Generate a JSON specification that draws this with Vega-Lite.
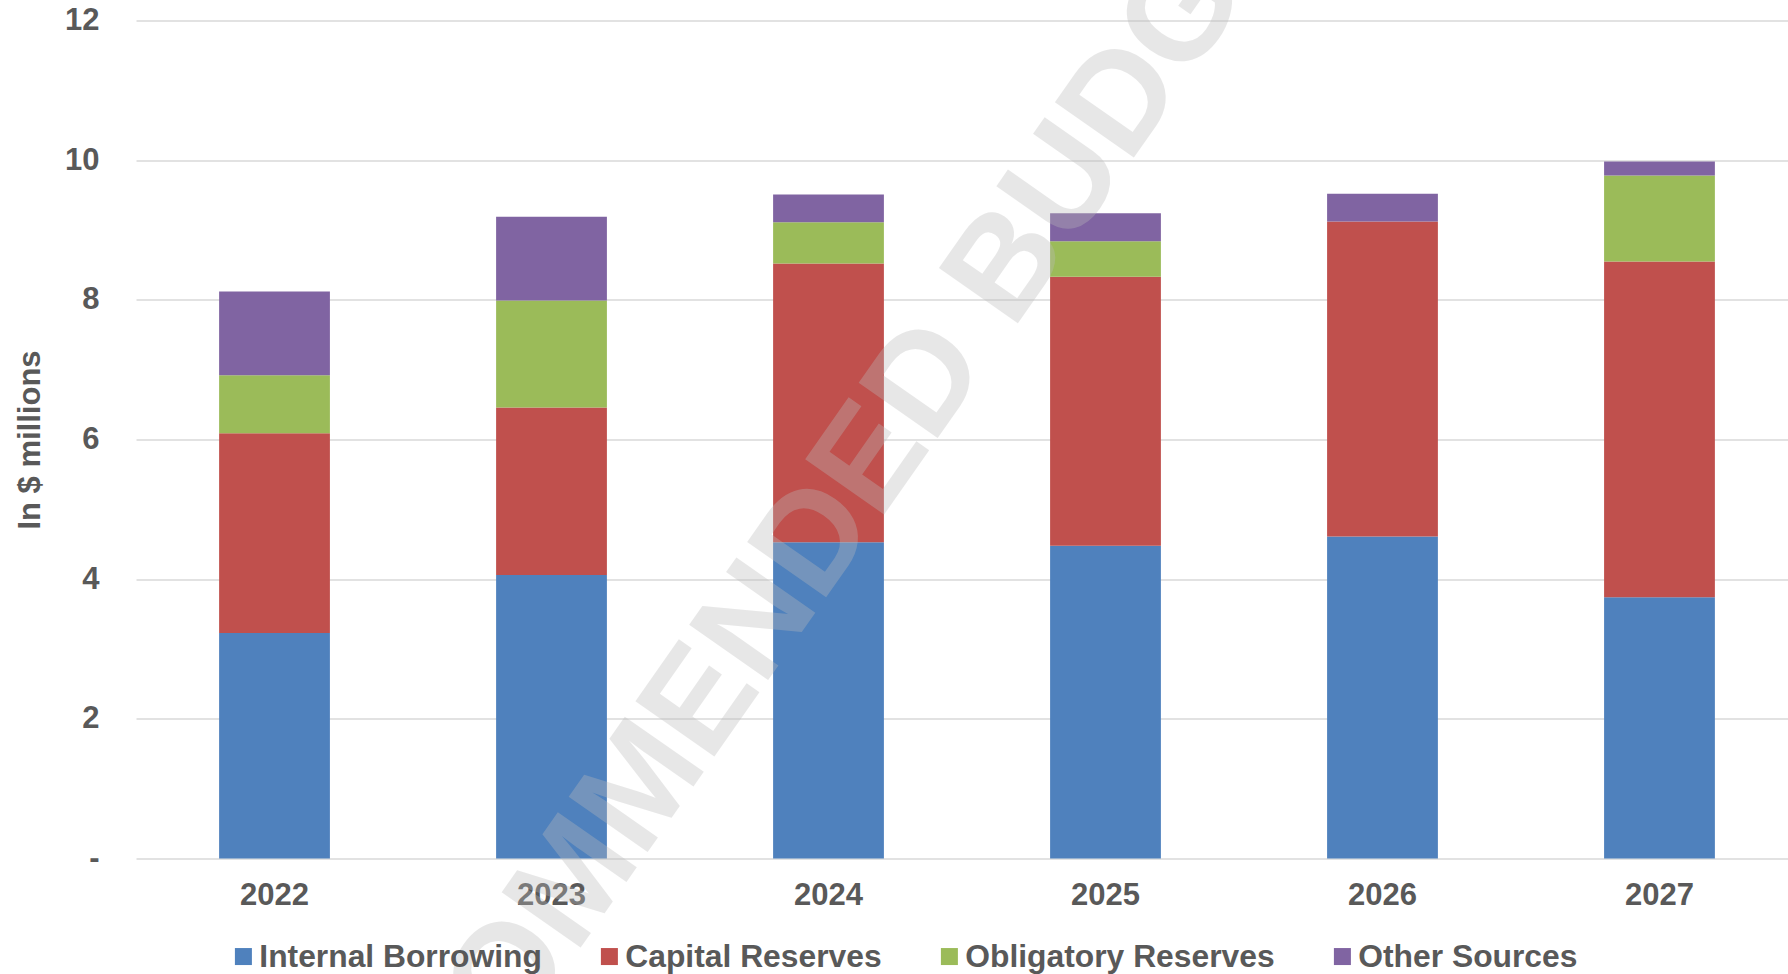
{
  "$schema": "https://vega.github.io/schema/vega-lite/v6.json",
  "width": 1652,
  "height": 838,
  "autosize": {"type": "none"},
  "padding": {"left": 136, "top": 20.5, "right": 0, "bottom": 115.5},
  "background": "white",
  "config": {"view": {"stroke": null}, "font": "Liberation Sans"},
  "layer": [
    {
      "data": {
        "values": [
          {"year": "2022", "source": "Internal Borrowing", "seq": 1, "amount": 3.23},
          {"year": "2022", "source": "Capital Reserves", "seq": 2, "amount": 2.86},
          {"year": "2022", "source": "Obligatory Reserves", "seq": 3, "amount": 0.83},
          {"year": "2022", "source": "Other Sources", "seq": 4, "amount": 1.20},
          {"year": "2023", "source": "Internal Borrowing", "seq": 1, "amount": 4.06},
          {"year": "2023", "source": "Capital Reserves", "seq": 2, "amount": 2.40},
          {"year": "2023", "source": "Obligatory Reserves", "seq": 3, "amount": 1.53},
          {"year": "2023", "source": "Other Sources", "seq": 4, "amount": 1.20},
          {"year": "2024", "source": "Internal Borrowing", "seq": 1, "amount": 4.53},
          {"year": "2024", "source": "Capital Reserves", "seq": 2, "amount": 3.99},
          {"year": "2024", "source": "Obligatory Reserves", "seq": 3, "amount": 0.59},
          {"year": "2024", "source": "Other Sources", "seq": 4, "amount": 0.40},
          {"year": "2025", "source": "Internal Borrowing", "seq": 1, "amount": 4.48},
          {"year": "2025", "source": "Capital Reserves", "seq": 2, "amount": 3.85},
          {"year": "2025", "source": "Obligatory Reserves", "seq": 3, "amount": 0.51},
          {"year": "2025", "source": "Other Sources", "seq": 4, "amount": 0.40},
          {"year": "2026", "source": "Internal Borrowing", "seq": 1, "amount": 4.61},
          {"year": "2026", "source": "Capital Reserves", "seq": 2, "amount": 4.51},
          {"year": "2026", "source": "Obligatory Reserves", "seq": 3, "amount": 0},
          {"year": "2026", "source": "Other Sources", "seq": 4, "amount": 0.40},
          {"year": "2027", "source": "Internal Borrowing", "seq": 1, "amount": 3.74},
          {"year": "2027", "source": "Capital Reserves", "seq": 2, "amount": 4.81},
          {"year": "2027", "source": "Obligatory Reserves", "seq": 3, "amount": 1.23},
          {"year": "2027", "source": "Other Sources", "seq": 4, "amount": 0.20}
        ]
      },
      "mark": {"type": "bar"},
      "encoding": {
        "x": {
          "field": "year",
          "type": "ordinal",
          "scale": {"paddingInner": 0.6, "paddingOuter": 0.282, "align": 0.532},
          "axis": {
            "title": null,
            "labelAngle": 0,
            "labelFontSize": 31,
            "labelFontWeight": "bold",
            "labelColor": "#595959",
            "labelPadding": 22,
            "ticks": false,
            "tickSize": 0,
            "domain": false,
            "grid": false
          }
        },
        "y": {
          "field": "amount",
          "type": "quantitative",
          "stack": "zero",
          "scale": {"domain": [0, 12], "nice": false},
          "axis": {
            "title": "In $ millions",
            "values": [0, 2, 4, 6, 8, 10, 12],
            "format": "d",
            "labelExpr": "datum.value == 0 ? '-\u00a0\u00a0' : datum.label",
            "labelFontSize": 31,
            "labelFontWeight": "bold",
            "labelColor": "#595959",
            "labelPadding": 37,
            "ticks": false,
            "tickSize": 0,
            "domain": false,
            "gridColor": "#D9D9D9",
            "gridWidth": 1.5,
            "titleFontSize": 31,
            "titleFontWeight": "bold",
            "titleColor": "#595959",
            "titlePadding": 18
          }
        },
        "color": {
          "field": "source",
          "type": "nominal",
          "scale": {
            "domain": ["Internal Borrowing", "Capital Reserves", "Obligatory Reserves", "Other Sources"],
            "range": ["#4F81BD", "#C0504D", "#9BBB59", "#8064A2"]
          },
          "legend": {
            "title": null,
            "orient": "none",
            "legendX": 91.5,
            "legendY": 920,
            "direction": "horizontal",
            "symbolType": "square",
            "symbolSize": 289,
            "symbolStrokeWidth": 0,
            "labelFontSize": 31.8,
            "labelFontWeight": "bold",
            "labelColor": "#595959",
            "labelOffset": 0,
            "labelLimit": 0,
            "columnPadding": 51,
            "padding": 0
          }
        },
        "order": {"field": "seq", "type": "quantitative"}
      }
    },
    {
      "data": {"values": [{"year": "2024", "amount": 4.84, "label": "RECOMMENDED BUDGET"}]},
      "mark": {
        "type": "text",
        "angle": 305,
        "fontSize": 140,
        "fontWeight": "bold",
        "color": "#BBBBBB",
        "opacity": 0.34,
        "align": "center",
        "baseline": "middle",
        "dx": -27
      },
      "encoding": {
        "x": {"field": "year", "type": "ordinal", "axis": {"title": null}},
        "y": {"field": "amount", "type": "quantitative", "axis": {"title": "In $ millions"}},
        "text": {"field": "label"}
      }
    }
  ]
}
